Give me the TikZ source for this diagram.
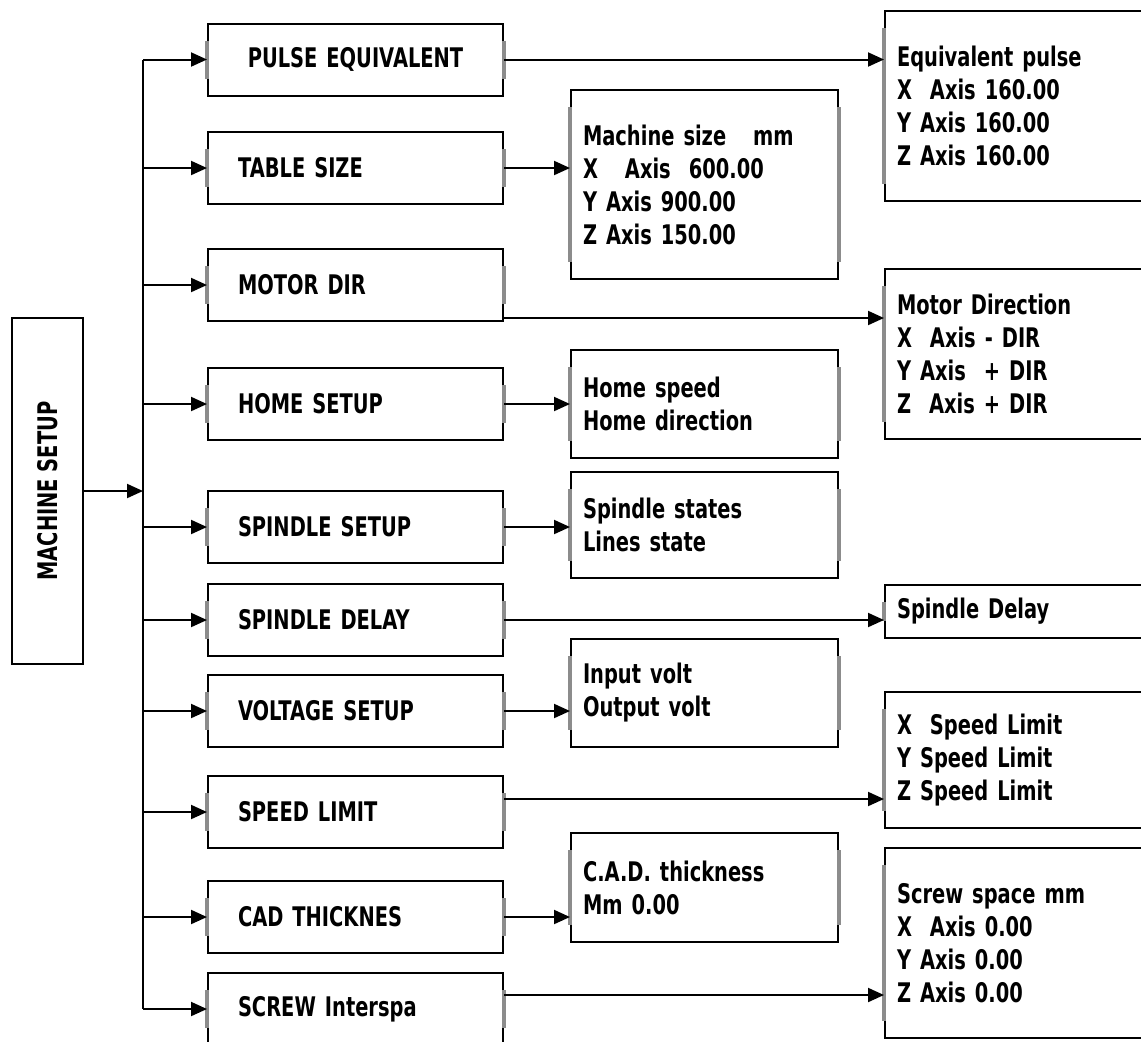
\documentclass[tikz,border=0pt]{standalone}
\usepackage{fontspec}
\setmainfont{DejaVu Sans}[FakeStretch=0.72]
\usetikzlibrary{arrows.meta,positioning}

\begin{document}
\begin{tikzpicture}[x=0.5pt, y=-0.5pt,
    every node/.style={font=\bfseries\fontsize{13.5}{16.5}\selectfont},
    menu/.style={rectangle, draw, line width=1pt, minimum width=147.5pt, minimum height=36pt,
                 text width=117.5pt, inner xsep=15pt, align=left},
    info/.style={rectangle, draw, line width=1pt, minimum width=133.5pt,
                 text width=121.5pt, inner xsep=6pt, align=left},
    result/.style={rectangle, draw, line width=1pt, anchor=west, minimum width=150pt,
                 text width=138pt, inner xsep=6pt, align=left},
    bar/.style={black!45, line width=1.6pt},
    arr/.style={-{Triangle[length=8pt, width=7pt]}, line width=1pt}
]
    \useasboundingbox (0,0) rectangle (1141,1041);
    \clip (0,0) rectangle (1141,1041);

    % root and trunk
    \node[draw, line width=1pt, minimum width=35.5pt, minimum height=173pt, inner sep=0pt]
        (setup) at (47.5,491) {\rotatebox{90}{MACHINE SETUP}};
    \coordinate (trunk) at (143,0);

    % menu entries
    \node[menu, align=center] (pulse)  at (355.5,59.5) {PULSE EQUIVALENT};
    \node[menu] (table)  at (355.5,168)  {TABLE SIZE};
    \node[menu] (motor)  at (355.5,285)  {MOTOR DIR};
    \node[menu] (home)   at (355.5,404)  {HOME SETUP};
    \node[menu] (spset)  at (355.5,527)  {SPINDLE SETUP};
    \node[menu] (spdel)  at (355.5,620)  {SPINDLE DELAY};
    \node[menu] (volt)   at (355.5,711)  {VOLTAGE SETUP};
    \node[menu] (speed)  at (355.5,812)  {SPEED LIMIT};
    \node[menu] (cad)    at (355.5,917)  {CAD THICKNES};
    \node[menu] (screw)  at (355.5,1009) {SCREW Interspa};

    % middle column
    \node[info, minimum height=94.5pt] (size)    at (704.5,184.5) {Machine size\ \ \ mm\\X\ \ \ Axis\ \ 600.00\\Y Axis 900.00\\Z Axis 150.00};
    \node[info, minimum height=54pt]   (homeinf) at (704.5,404)   {Home speed\\Home direction};
    \node[info, minimum height=53pt]   (spinf)   at (704.5,525)   {Spindle states\\Lines state};
    \node[info, minimum height=54pt]   (voltinf) at (704.5,693)   {Input volt\\Output volt};
    \node[info, minimum height=54.5pt] (cadinf)  at (704.5,887.5) {C.A.D. thickness\\Mm 0.00};

    % right column
    \node[result, minimum height=95pt] (pulseres) at (884,106) {Equivalent pulse\\X\ \ Axis 160.00\\Y Axis 160.00\\Z Axis 160.00};
    \node[result, minimum height=85pt] (motorres) at (884,354) {Motor Direction\\X\ \ Axis - DIR\\Y Axis\ \ + DIR\\Z\ \ Axis + DIR};
    \node[result, minimum height=26.5pt] (delres) at (884,611.5) {Spindle Delay};
    \node[result, minimum height=68pt] (speedres) at (884,760) {X\ \ Speed Limit\\Y Speed Limit\\Z Speed Limit};
    \node[result, minimum height=95pt] (screwres) at (884,943) {Screw space mm\\X\ \ Axis 0.00\\Y Axis 0.00\\Z Axis 0.00};

    % grey inset marks on the box sides
    \foreach \n in {pulse,table,motor,home,spset,spdel,volt,speed,cad,screw,
                    size,homeinf,spinf,voltinf,cadinf,
                    pulseres,motorres,delres,speedres,screwres}
        \draw[bar] ([yshift=-9pt]\n.north west) -- ([yshift=9pt]\n.south west)
                   ([yshift=-9pt]\n.north east) -- ([yshift=9pt]\n.south east);

    % trunk and branches
    \draw[arr] (setup.east) -- (setup.east -| trunk);
    \draw[line width=1pt] (pulse.west -| trunk) -- (screw.west -| trunk);
    \draw[arr] (pulse.west -| trunk) -- (pulse.west);
    \draw[arr] (table.west -| trunk) -- (table.west);
    \draw[arr] (motor.west -| trunk) -- (motor.west);
    \draw[arr] (home.west -| trunk)  -- (home.west);
    \draw[arr] (spset.west -| trunk) -- (spset.west);
    \draw[arr] (spdel.west -| trunk) -- (spdel.west);
    \draw[arr] (volt.west -| trunk)  -- (volt.west);
    \draw[arr] (speed.west -| trunk) -- (speed.west);
    \draw[arr] (cad.west -| trunk)   -- (cad.west);
    \draw[arr] (screw.west -| trunk) -- (screw.west);

    % to the detail boxes
    \draw[arr] (table.east) -- (table.east -| size.west);
    \draw[arr] (home.east)  -- (home.east -| homeinf.west);
    \draw[arr] (spset.east) -- (spset.east -| spinf.west);
    \draw[arr] (volt.east)  -- (volt.east -| voltinf.west);
    \draw[arr] (cad.east)   -- (cad.east -| cadinf.west);
    \draw[arr] (pulse.east) -- (pulse.east -| pulseres.west);
    \draw[arr] ([yshift=-16.5pt]motor.east) -- ([yshift=-16.5pt]motor.east -| motorres.west);
    \draw[arr] (spdel.east) -- (spdel.east -| delres.west);
    \draw[arr] ([yshift=6.5pt]speed.east) -- ([yshift=6.5pt]speed.east -| speedres.west);
    \draw[arr] ([yshift=7pt]screw.east) -- ([yshift=7pt]screw.east -| screwres.west);
\end{tikzpicture}
\end{document}
